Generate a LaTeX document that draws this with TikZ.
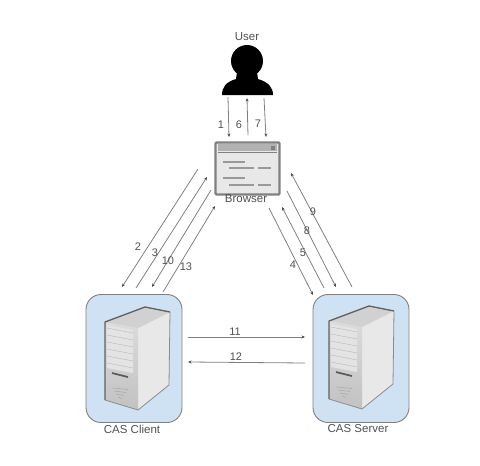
\documentclass[tikz,border=0pt]{standalone}
\usepackage{fontspec}
\setmainfont{Liberation Sans}
\usetikzlibrary{arrows.meta}
\definecolor{panelblue}{HTML}{CFE2F3}
\definecolor{linegray}{HTML}{808080}
\definecolor{textgray}{HTML}{505050}
\tikzset{
  flow/.style={draw=linegray,line width=0.8pt,-{Stealth[length=3.5pt,width=3pt,color=black!70]}},
  lab/.style={text=textgray,font=\fontsize{11}{12}\selectfont,inner sep=0pt},
  caption/.style={text=textgray,font=\fontsize{11.5}{12}\selectfont,inner sep=0pt},
  panel/.style={draw=black!50,line width=0.9pt,fill=panelblue,rounded corners=15pt,minimum width=96pt,minimum height=128pt,inner sep=0pt},
  webwin/.style={draw=black!50,line width=2.2pt,fill=black!9,rounded corners=1pt,minimum width=64pt,minimum height=52pt,inner sep=0pt},
  bar/.style={draw=black!40,line width=1.8pt},
  pics/tower/.style={code={
    \fill[black!9] (33,6) -- (65,-10) -- (64,63) -- (33,88) -- cycle;
    \fill[black!18] (0,0) -- (40,-15) -- (65,-10) -- (33,6) -- cycle;
    \shade[top color=black!14,bottom color=black!24] (0,0) -- (33,6) -- (33,88) -- (0,78) -- cycle;
    \draw[black!62,line width=1.3pt,line join=round] (0,78) -- (0,0) -- (40,-15) -- (65,-10);
    \draw[black!45,line width=0.8pt,line join=round] (65,-10) -- (64,63) -- (33,88) -- (0,78);
    \fill[black!11] (2,3) -- (28,8) -- (28,51) -- (2,46) -- cycle;
    \foreach \yy in {9,16,23,30,37,44}{\draw[black!25,line width=0.5pt] (2,\yy-3) -- (28,\yy+2);}
    \draw[black!65,line width=1.7pt] (7,51) -- (23,55);
    \foreach \a/\b/\c in {66/7/23,69/9/21,72/11/19,75/13/17}{\draw[black!35,line width=0.5pt] (\b,\a) -- (\c,\a+1.5);}
  }}
}
\begin{document}
\begin{tikzpicture}[x=1pt,y=-1pt]
\useasboundingbox (0,0) rectangle (480,466);
% user
\fill[black] (222,95) .. controls (222,87) and (226,82) .. (236,79) -- (237,72) -- (257,72) -- (258,79) .. controls (268,82) and (273,87) .. (273,95) -- cycle;
\node[circle,fill=black,minimum size=32pt,inner sep=0pt] (userhead) at (247,61) {};
\node[caption] (user) at (247,37) {User};
% browser
\node[webwin] (browser) at (247.5,168.5) {};
\fill[black!30] (218,144) rectangle (277,151);
\draw[black!50,line width=0.8pt] (218,152) -- (277,152);
\fill[black!50] (271,145.5) rectangle (275,150);
\foreach \xa/\xb/\yy in {223/245/162,229/254/168,258/271/168,223/245/178,229/254/185,258/271/185}{\draw[bar] (\xa,\yy) -- (\xb,\yy);}
\node[caption] (browserlab) at (246,198.5) {Browser};
% servers
\node[panel] (client) at (134,358.5) {};
\node[panel] (server) at (361,358.5) {};
\pic at (105,322) {tower};
\pic at (329,321) {tower};
\node[caption] (clientlab) at (132,429) {CAS Client};
\node[caption] (serverlab) at (358,429) {CAS Server};
% free ends
\foreach \n/\x/\y in {
 a1/228/97, b1/229/137, a6/248/135, b6/247/98, a7/264/98, b7/266/137,
 a2/198/169, b2/122/287, a3/136/288, b3/207/177, a10/211/190, b10/152/287, a13/163/292, b13/215/206,
 a4/269/208, b4/313/295, a5/324/288, b5/282/207, a8/287/191, b8/336/287, a9/352/287, b9/291/173,
 a11/188/337, b11/305/337, a12/305/363, b12/188/362}{\coordinate (\n) at (\x,\y);}
\foreach \k in {1,6,7,2,3,10,13,4,5,8,9,11,12}{\draw[flow] (a\k) -- (b\k);}
% labels
\foreach \k/\x/\y in {1/221/125,6/239/125,7/258/124,2/138/247,3/155/253,10/168/261,13/186/267,4/293/265,5/303/253,8/307/231,9/313/212,11/235/332,12/236/357}{\node[lab] (l\k) at (\x,\y) {\k};}
\end{tikzpicture}
\end{document}
